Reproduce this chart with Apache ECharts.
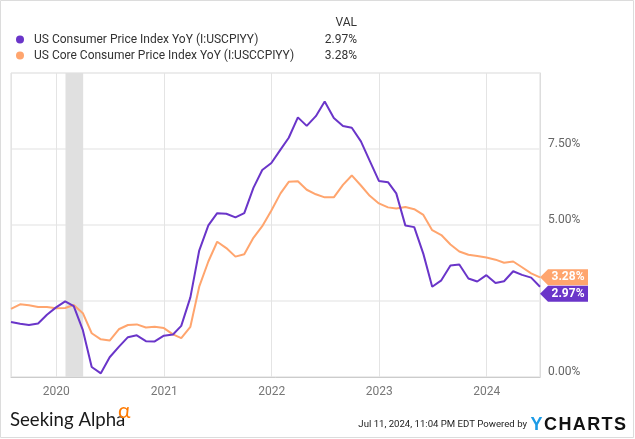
<!DOCTYPE html>
<html>
<head>
<meta charset="utf-8">
<script src="https://cdn.jsdelivr.net/npm/echarts@6/dist/echarts.min.js"></script>
<style>
html,body{margin:0;padding:0;background:#fff;}
#c{width:635px;height:439px;}
</style>
</head>
<body>
<div id="c"></div>
<script>
const months = [
 '2019-07','2019-08','2019-09','2019-10','2019-11','2019-12',
 '2020-01','2020-02','2020-03','2020-04','2020-05','2020-06','2020-07','2020-08','2020-09','2020-10','2020-11','2020-12',
 '2021-01','2021-02','2021-03','2021-04','2021-05','2021-06','2021-07','2021-08','2021-09','2021-10','2021-11','2021-12',
 '2022-01','2022-02','2022-03','2022-04','2022-05','2022-06','2022-07','2022-08','2022-09','2022-10','2022-11','2022-12',
 '2023-01','2023-02','2023-03','2023-04','2023-05','2023-06','2023-07','2023-08','2023-09','2023-10','2023-11','2023-12',
 '2024-01','2024-02','2024-03','2024-04','2024-05','2024-06'
];
const cpi = [
 1.81,1.75,1.71,1.76,2.05,2.29,
 2.49,2.33,1.54,0.33,0.12,0.65,0.99,1.31,1.37,1.18,1.17,1.36,
 1.40,1.68,2.62,4.16,4.99,5.39,5.37,5.25,5.39,6.22,6.81,7.04,
 7.48,7.87,8.54,8.26,8.58,9.06,8.52,8.26,8.20,7.75,7.11,6.45,
 6.41,6.04,4.98,4.93,4.05,2.97,3.18,3.67,3.70,3.24,3.14,3.35,
 3.09,3.15,3.48,3.36,3.27,2.97
];
const coreCpi = [
 2.24,2.39,2.36,2.30,2.30,2.26,
 2.27,2.37,2.10,1.44,1.24,1.20,1.57,1.71,1.73,1.63,1.65,1.61,
 1.40,1.28,1.65,2.97,3.80,4.45,4.24,3.96,4.04,4.58,4.96,5.48,
 6.04,6.42,6.44,6.16,6.01,5.91,5.91,6.32,6.63,6.30,5.96,5.71,
 5.58,5.54,5.59,5.52,5.33,4.83,4.67,4.36,4.13,4.02,3.98,3.93,
 3.86,3.76,3.80,3.61,3.41,3.28
];
const seriesNames = ['US Consumer Price Index YoY (I:USCPIYY)','US Core Consumer Price Index YoY (I:USCCPIYY)'];
const seriesColors = ['#6a35c9','#ffa56e'];
const recession = ['2020-02-01','2020-04-01'];
const yTicks = [0, 2.5, 5, 7.5, 10];
const yLabelsShown = [0, 5, 7.5];

function monthEnd(m){
  const p = m.split('-');
  const d = new Date(Date.UTC(+p[0], +p[1], 0));
  return d.toISOString().slice(0,10);
}
const dates = months.map(monthEnd);
const pairs = (arr) => arr.map((v,i)=>[dates[i], v]);
const lastDate = dates[dates.length-1];
const fmt = v => v.toFixed(2) + '%';

const tagPath = 'path://M0,8L8,0L48,0L48,16L8,16Z';
function tag(val, color, dy){
  return {
    symbol: tagPath, symbolSize: [48,16], symbolOffset: [24, dy], silent: true,
    itemStyle: {color: color},
    label: {show: true, position: 'inside', offset: [4, 0], color: '#fff', fontWeight: 'bold', fontSize: 12, fontFamily: 'Roboto', formatter: () => fmt(val)},
    data: [{coord: [lastDate, val]}]
  };
}

const chart = echarts.init(document.getElementById('c'), null, {renderer: 'canvas'});
const allSeries = [cpi, coreCpi];
const graphics = [
  {type:'rect', shape:{x:0.5,y:0.5,width:633,height:437}, style:{fill:'none', stroke:'#dcdcdc', lineWidth:1}, silent:true},
  {type:'text', x:357, y:23, style:{text:'VAL', textAlign:'right', textVerticalAlign:'middle', font:'12px Roboto', fill:'#333'}}
];
const rowY = [39.5, 55.5];
allSeries.forEach((arr, i) => {
  graphics.push({type:'circle', shape:{cx:20, cy:rowY[i], r:4}, style:{fill:seriesColors[i]}});
  graphics.push({type:'text', x:34, y:rowY[i], style:{text:seriesNames[i], textVerticalAlign:'middle', font:'12px Roboto', fill:'#333'}});
  graphics.push({type:'text', x:357, y:rowY[i], style:{text:fmt(arr[arr.length-1]), textAlign:'right', textVerticalAlign:'middle', font:'12px Roboto', fill:'#333'}});
});
graphics.push({type:'text', x:10, y:420, style:{text:'Seeking Alpha', textVerticalAlign:'middle', font:'18.6px Lato', fill:'#1a1a1a'}});
graphics.push({type:'text', x:118, y:411, style:{text:'α', textVerticalAlign:'middle', font:'21px Lato', fill:'#ff7a00'}});
graphics.push({type:'text', x:527, y:425, style:{text:'Jul 11, 2024, 11:04 PM EDT Powered by', textAlign:'right', textVerticalAlign:'middle', font:'9.6px Roboto', fill:'#222'}});
const ychartsLetters = 'CHARTS'.split('').map(ch => '{c|' + ch + '}').join('');
graphics.push({type:'text', x:626, y:425, style:{
  text:'{y|Y}' + ychartsLetters, textAlign:'right', textVerticalAlign:'middle',
  rich:{y:{fill:'#1c9be6', font:'bold 18px "Liberation Sans"'}, c:{fill:'#111', font:'bold 18px "Liberation Sans"', padding:[0,0,0,1.4]}}
}});

chart.setOption({
  animation: false,
  backgroundColor: '#fff',
  grid: {left: 11, top: 73, width: 529, height: 304, show: true, borderColor: '#dddddd', borderWidth: 1},
  xAxis: {
    type: 'time', min: dates[0], max: lastDate,
    axisLine: {show: true, lineStyle: {color: '#cccccc'}},
    axisTick: {show: false},
    splitLine: {show: true, lineStyle: {color: '#e4e4e4'}},
    axisLabel: {color: '#777', fontSize: 12, fontFamily: 'Roboto', margin: 9,
      formatter: function(v){ const d = new Date(v); return d.getMonth() === 0 && d.getDate() === 1 ? String(d.getFullYear()) : ''; }},
    minorTick: {show: false}
  },
  yAxis: {
    type: 'value', position: 'right', min: yTicks[0], max: yTicks[yTicks.length-1], interval: 2.5,
    axisLine: {show: true, lineStyle: {color: '#dddddd'}},
    axisTick: {show: false},
    splitLine: {show: true, lineStyle: {color: '#ebebeb', width: 1.5}},
    axisLabel: {color: '#666', fontSize: 12, fontFamily: 'Roboto', margin: 8, verticalAlign: 'bottom', lineHeight: 11,
      formatter: v => yLabelsShown.indexOf(v) >= 0 ? fmt(v) : ''}
  },
  graphic: graphics,
  series: [
    {
      name: seriesNames[1], type: 'line', data: pairs(coreCpi), showSymbol: false, z: 3,
      lineStyle: {color: seriesColors[1], width: 2}, itemStyle: {color: seriesColors[1]},
      markArea: {silent: true, itemStyle: {color: '#e0e0e0'}, data: [[{xAxis: recession[0]}, {xAxis: recession[1]}]]},
      markPoint: tag(coreCpi[coreCpi.length-1], seriesColors[1], 0)
    },
    {
      name: seriesNames[0], type: 'line', data: pairs(cpi), showSymbol: false, z: 4,
      lineStyle: {color: seriesColors[0], width: 2}, itemStyle: {color: seriesColors[0]},
      markPoint: tag(cpi[cpi.length-1], seriesColors[0], 7)
    }
  ]
});
</script>
</body>
</html>
